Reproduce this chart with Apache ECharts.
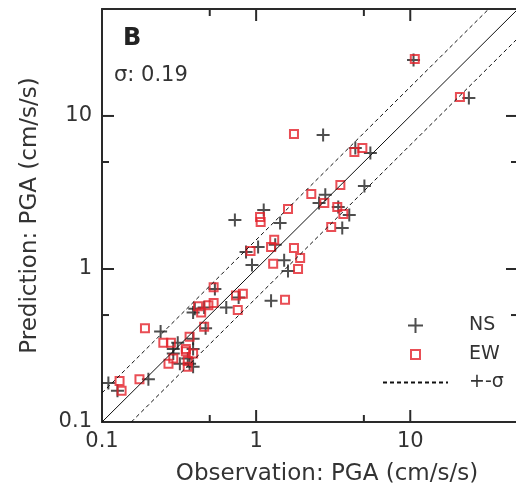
<!DOCTYPE html>
<html>
<head>
<meta charset="utf-8">
<script src="https://cdn.jsdelivr.net/npm/echarts@6/dist/echarts.min.js"></script>
<style>
    html, body { margin: 0; padding: 0; background: #ffffff; }
    #pga-chart { width: 516px; height: 487px; }
</style>
</head>
<body>
<div id="pga-chart"></div>
<script>
// Chart values (cm/s/s)
const SIGMA = 0.19;
const AXIS_MIN = 0.1;
const AXIS_MAX = 50;
const MAJOR_TICKS = [1, 10];
const MINOR_TICKS = [0.5, 5];

const ns_observed = [10.5, 24.0, 2.72, 5.51, 4.40, 5.04, 2.81, 2.56, 3.41, 4.02, 3.62, 1.12, 0.728, 1.43,
    1.33, 1.03, 0.86, 1.52, 0.94, 1.61, 1.25, 0.54, 0.64, 0.77, 0.40, 0.46, 0.47, 0.24, 0.31, 0.29,
    0.39, 0.39, 0.36, 0.29, 0.32, 0.37, 0.39, 0.20, 0.11, 0.126, 0.39];
const ns_predicted = [23.2, 13.1, 7.51, 5.73, 6.18, 3.49, 3.05, 2.70, 2.54, 2.25, 1.85, 2.43, 2.09, 2.00,
    1.44, 1.39, 1.29, 1.14, 1.06, 0.97, 0.62, 0.74, 0.56, 0.65, 0.55, 0.56, 0.41, 0.39, 0.33, 0.30,
    0.35, 0.30, 0.26, 0.28, 0.24, 0.24, 0.23, 0.19, 0.18, 0.16, 0.52];

const ew_observed = [10.7, 21.0, 1.76, 4.34, 4.89, 3.52, 2.28, 2.77, 3.36, 3.68, 3.07, 1.61, 1.06, 1.07,
    1.31, 1.25, 0.92, 1.76, 1.93, 1.29, 1.87, 1.54, 0.53, 0.76, 0.74, 0.82, 0.42, 0.49, 0.53, 0.44,
    0.46, 0.19, 0.25, 0.28, 0.37, 0.35, 0.35, 0.39, 0.29, 0.27, 0.36, 0.36, 0.175, 0.13, 0.134];
const ew_predicted = [23.6, 13.3, 7.63, 5.82, 6.18, 3.54, 3.09, 2.70, 2.54, 2.29, 1.88, 2.47, 2.19, 2.03,
    1.55, 1.39, 1.31, 1.37, 1.18, 1.08, 1.00, 0.63, 0.76, 0.54, 0.67, 0.69, 0.57, 0.58, 0.60, 0.52,
    0.42, 0.41, 0.33, 0.33, 0.36, 0.30, 0.29, 0.28, 0.26, 0.24, 0.25, 0.23, 0.19, 0.185, 0.16];

const FONT = 'DejaVu Sans';
const TEXT_COLOR = '#333333';
const FRAME_COLOR = '#2a2a2a';
const EW_COLOR = '#e3222b';
const MAJOR_TICK_LEN = 12;
const MINOR_TICK_LEN = 7;
const SIDES = ['bottom', 'top', 'left', 'right'];

function zip(xs, ys) {
    return xs.map(function (x, i) { return [x, ys[i]]; });
}

// +-sigma band lines, clipped to the axis range
const band = Math.pow(10, SIGMA);
const one_to_one = [[AXIS_MIN, AXIS_MIN], [AXIS_MAX, AXIS_MAX]];
const upper_band = [[AXIS_MIN, AXIS_MIN * band], [AXIS_MAX / band, AXIS_MAX]];
const lower_band = [[AXIS_MIN * band, AXIS_MIN], [AXIS_MAX, AXIS_MAX / band]];

// One item per tick per side: [value, is_minor, side index]
let frame_ticks = [];
SIDES.forEach(function (side, s) {
    MAJOR_TICKS.forEach(function (v) { frame_ticks.push([v, 0, s]); });
    MINOR_TICKS.forEach(function (v) { frame_ticks.push([v, 1, s]); });
});

function frame_axis(position, show_labels) {
    return {
        type: 'log',
        logBase: 10,
        min: AXIS_MIN,
        max: AXIS_MAX,
        position: position,
        axisLine: {
            show: true,
            onZero: false,
            lineStyle: {color: FRAME_COLOR, width: 2}
        },
        axisTick: {show: false},
        axisLabel: {
            show: show_labels,
            color: TEXT_COLOR,
            fontFamily: FONT,
            fontSize: 21,
            margin: 9,
            showMaxLabel: false
        },
        splitLine: {show: false}
    };
}

let x_axis = [frame_axis('bottom', true), frame_axis('top', false)];
x_axis[0].name = 'Observation: PGA (cm/s/s)';
x_axis[0].nameLocation = 'middle';
x_axis[0].nameGap = 41;
x_axis[0].nameTextStyle = {color: TEXT_COLOR, fontFamily: FONT, fontSize: 23, padding: [0, 0, 0, 34]};

let y_axis = [frame_axis('left', true), frame_axis('right', false)];
y_axis[0].axisLabel.margin = 10;
y_axis[0].name = 'Prediction: PGA (cm/s/s)';
y_axis[0].nameLocation = 'middle';
y_axis[0].nameGap = 60;
y_axis[0].nameTextStyle = {color: TEXT_COLOR, fontFamily: FONT, fontSize: 23};

// Each item draws one inward tick, positioned through the axis scales.
function render_frame_tick(params, api) {
    let v = api.value(0);
    let len = api.value(1) ? MINOR_TICK_LEN : MAJOR_TICK_LEN;
    let side = SIDES[api.value(2)];
    let shape;
    if (side === 'bottom') {
        let p = api.coord([v, AXIS_MIN]);
        shape = {x1: p[0], y1: p[1], x2: p[0], y2: p[1] - len};
    } else if (side === 'top') {
        let p = api.coord([v, AXIS_MAX]);
        shape = {x1: p[0], y1: p[1], x2: p[0], y2: p[1] + len};
    } else if (side === 'left') {
        let p = api.coord([AXIS_MIN, v]);
        shape = {x1: p[0], y1: p[1], x2: p[0] + len, y2: p[1]};
    } else {
        let p = api.coord([AXIS_MAX, v]);
        shape = {x1: p[0], y1: p[1], x2: p[0] - len, y2: p[1]};
    }
    return {
        type: 'line',
        shape: shape,
        style: {stroke: FRAME_COLOR, lineWidth: 2}
    };
}

function legend_text(pad) {
    return {color: TEXT_COLOR, fontFamily: FONT, fontSize: 19, padding: [0, 0, 0, pad]};
}

let options = {
    animation: false,
    grid: {left: 102, right: -2, top: 9, bottom: 65, outerBoundsMode: 'none'},
    title: [
        {
            text: 'B', left: 123, top: 27, padding: 0,
            textStyle: {color: '#222222', fontFamily: FONT, fontSize: 24, fontWeight: 'bold'}
        },
        {
            text: 'σ: 0.19', left: 114, top: 65, padding: 0,
            textStyle: {color: TEXT_COLOR, fontFamily: FONT, fontSize: 21, fontWeight: 'normal'}
        }
    ],
    legend: [
        {data: ['NS'], left: 407, top: 316, padding: 0, itemWidth: 15, itemHeight: 15, textStyle: legend_text(41)},
        {data: ['EW'], left: 410, top: 345, padding: 0, itemWidth: 9, itemHeight: 9, textStyle: legend_text(44)},
        {data: ['+-σ'], left: 382, top: 373, padding: 0, itemWidth: 65, itemHeight: 14, textStyle: legend_text(16)}
    ],
    xAxis: x_axis,
    yAxis: y_axis,
    series: [
        {
            name: 'ticks', type: 'custom', data: frame_ticks, silent: true, z: 5, clip: false,
            encode: {x: 0, y: 0},
            renderItem: render_frame_tick
        },
        {
            name: '1:1', type: 'line', data: one_to_one, symbol: 'none', silent: true,
            lineStyle: {color: '#111111', width: 1}
        },
        {
            name: '+-σ', type: 'line', data: upper_band, symbol: 'none', silent: true,
            itemStyle: {color: 'rgba(0,0,0,0)'},
            lineStyle: {color: '#111111', width: 1, type: [4, 3]}
        },
        {
            name: '+-σ', type: 'line', data: lower_band, symbol: 'none', silent: true,
            itemStyle: {color: 'rgba(0,0,0,0)'},
            lineStyle: {color: '#111111', width: 1, type: [4, 3]}
        },
        {
            name: 'NS', type: 'scatter', data: zip(ns_observed, ns_predicted),
            symbol: 'path://M0,6H12M6,0V12', symbolSize: 13,
            itemStyle: {color: 'rgba(0,0,0,0)', borderColor: '#222222', borderWidth: 2}
        },
        {
            name: 'EW', type: 'scatter', data: zip(ew_observed, ew_predicted),
            symbol: 'rect', symbolSize: 8,
            itemStyle: {color: 'rgba(0,0,0,0)', borderColor: EW_COLOR, borderWidth: 2}
        }
    ]
};

let pga_chart = echarts.init(document.getElementById('pga-chart'));
pga_chart.setOption(options);

window.addEventListener('resize', function () {
    pga_chart.resize();
});
</script>
</body>
</html>
